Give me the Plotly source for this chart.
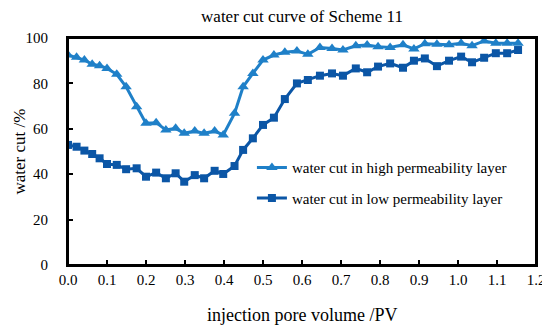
import plotly.graph_objects as go

pv = [0.000, 0.022, 0.042, 0.062, 0.081, 0.100, 0.125, 0.149, 0.176, 0.200,
      0.226, 0.251, 0.276, 0.298, 0.325, 0.349, 0.376, 0.398, 0.427, 0.449,
      0.474, 0.500, 0.528, 0.556, 0.587, 0.615, 0.646, 0.677, 0.705, 0.738,
      0.767, 0.795, 0.826, 0.859, 0.887, 0.915, 0.946, 0.977, 1.008, 1.036,
      1.067, 1.097, 1.126, 1.154]

high_layer = [92.5, 91.5, 90.3, 88.4, 87.8, 86.6, 84.0, 78.5, 69.7, 62.4,
              62.7, 59.5, 60.2, 58.0, 59.0, 58.0, 59.0, 57.3, 66.8, 78.5,
              84.4, 90.3, 92.5, 93.7, 94.3, 92.8, 95.8, 95.4, 94.7, 96.6,
              96.9, 96.2, 95.8, 97.0, 95.2, 97.5, 97.2, 97.0, 97.7, 96.6,
              98.7, 97.7, 97.7, 97.7]

low_layer = [52.9, 52.1, 50.4, 48.9, 47.0, 44.5, 44.1, 42.2, 42.6, 38.9,
             40.7, 38.2, 40.4, 36.7, 39.6, 38.2, 41.5, 40.1, 43.6, 50.7,
             55.8, 61.7, 64.9, 73.1, 80.0, 81.5, 83.4, 84.4, 83.4, 86.6,
             84.9, 87.4, 88.8, 86.9, 90.0, 91.0, 87.6, 90.0, 91.8, 89.3,
             91.3, 93.3, 93.3, 94.7]

names = ["water cut in high permeability layer", "water cut in low permeability layer"]
title = "water cut curve of Scheme 11"
x_title = "injection pore volume /PV"
y_title = "water cut /%"

FONT = "Liberation Serif, Times New Roman, serif"
HIGH_C = "#1f80c8"
LOW_C = "#0b56a6"

fig = go.Figure()
fig.add_trace(go.Scatter(x=pv, y=high_layer, name=names[0], mode="lines+markers",
                         legendgroup="a",
                         line=dict(color=HIGH_C, width=3),
                         marker=dict(symbol="triangle-up", size=10, color=HIGH_C)))
fig.add_trace(go.Scatter(x=pv, y=low_layer, name=names[1], mode="lines+markers",
                         legendgroup="b",
                         line=dict(color=LOW_C, width=3),
                         marker=dict(symbol="square", size=8, color=LOW_C)))

# page body has an 8px margin, so the figure is 8px smaller and margins offset
fig.update_layout(
    width=542, height=319, autosize=False,
    margin=dict(l=60, r=14, t=30, b=62),
    paper_bgcolor="white", plot_bgcolor="white",
    font=dict(family=FONT, color="black", size=15),
    title=dict(text=title, x=0.5, xref="paper", y=0.975, yref="container",
               yanchor="middle",
               font=dict(family=FONT, size=17, color="black")),
    legend=dict(x=0.393, y=0.501, xanchor="left", yanchor="top",
                bgcolor="rgba(0,0,0,0)", font=dict(family=FONT, size=15, color="black"),
                traceorder="grouped", tracegroupgap=8, itemwidth=30),
    annotations=[
        dict(text=x_title, xref="paper", yref="paper", x=0.5, y=-50 / 227,
             yanchor="middle", xanchor="center", showarrow=False,
             font=dict(family=FONT, size=18, color="black")),
        dict(text=y_title, xref="paper", yref="paper", x=-49 / 468, y=0.5,
             yanchor="middle", xanchor="center", showarrow=False, textangle=-90,
             font=dict(family=FONT, size=17, color="black")),
    ],
    shapes=[
        dict(type="rect", xref="paper", yref="paper", x0=0, y0=0, x1=1, y1=1,
             line=dict(color="#000000", width=2),
             layer="above"),
    ],
)
fig.update_xaxes(range=[0, 1.2], dtick=0.1, tick0=0, tickformat=".1f",
                 ticks="inside", ticklen=5, tickcolor="#000000", tickwidth=2,
                 showline=True, linecolor="#000000", linewidth=2, mirror=True,
                 showgrid=False, zeroline=False,
                 automargin=False,
                 tickfont=dict(family=FONT, size=15, color="black"))
fig.update_yaxes(range=[0, 100], dtick=20, tick0=0,
                 ticksuffix="\u00a0\u00a0\u00a0\u00a0",
                 ticks="inside", ticklen=5, tickcolor="#000000", tickwidth=2,
                 showline=True, linecolor="#000000", linewidth=2, mirror=True,
                 showgrid=False, zeroline=False,
                 automargin=False,
                 tickfont=dict(family=FONT, size=15, color="black"))

fig.write_html("out.html")
